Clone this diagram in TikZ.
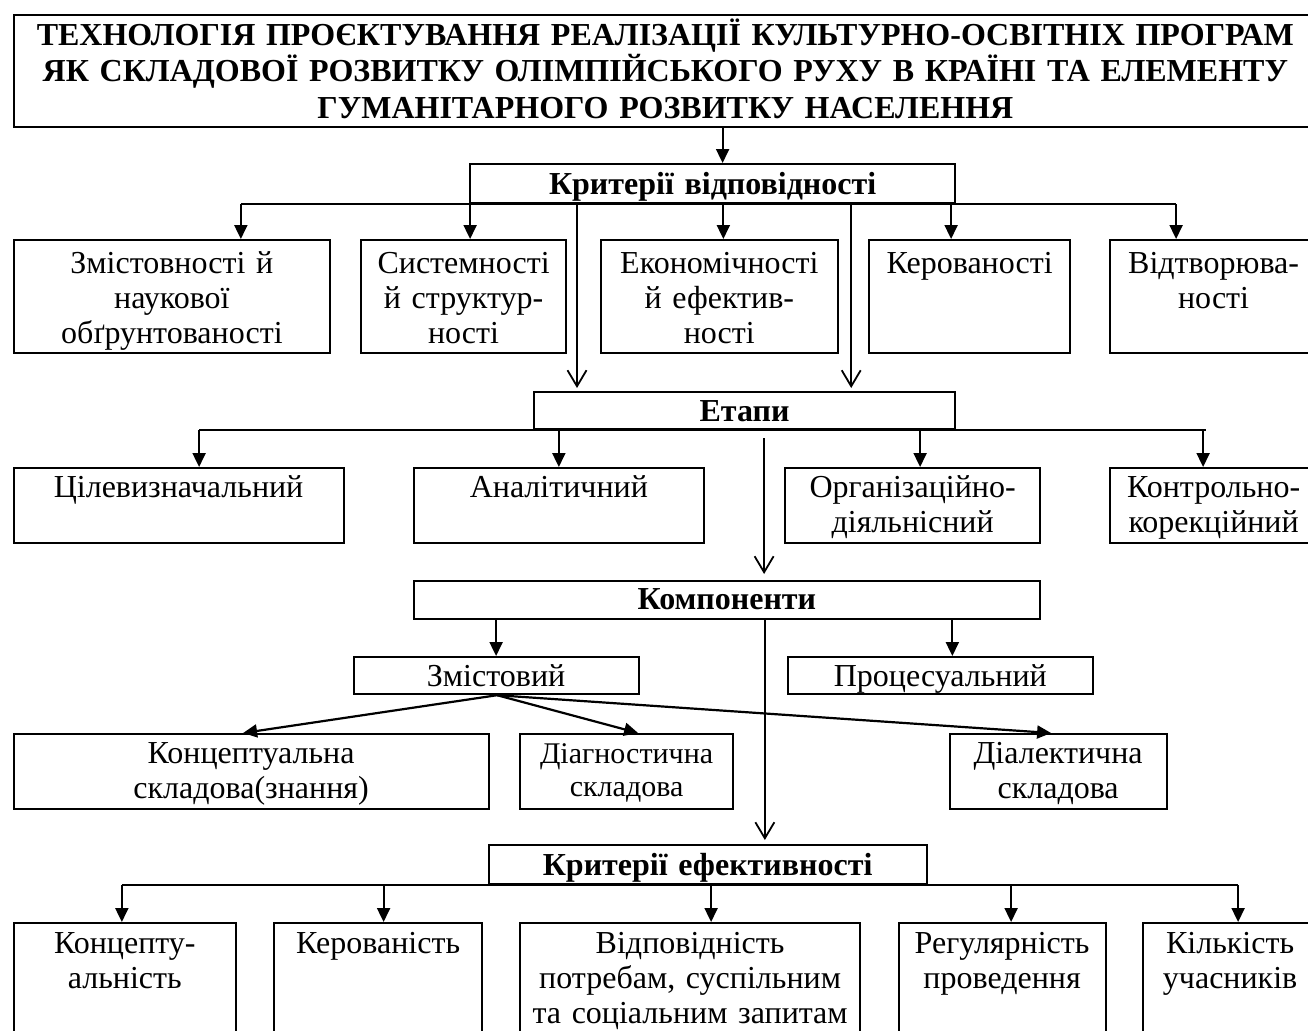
\documentclass[tikz,border=0pt]{standalone}
\usepackage{fontspec}
\setmainfont{Liberation Serif}
\usepackage{tikz}
\usetikzlibrary{arrows.meta}
\newcommand{\tekst}{\fontsize{32}{35}\selectfont}
\tikzstyle{blok} = [draw, line width=2.2pt, align=center, inner sep=0pt, anchor=north west, font=\tekst]
\tikzstyle{nazva} = [blok, font=\fontsize{32}{36.5}\selectfont\bfseries, text height=30pt, text depth=82pt]
\tikzstyle{rubryka} = [blok, font=\tekst\bfseries, text height=30pt, text depth=9pt]
\tikzstyle{mala} = [blok, text height=29pt, text depth=8pt]
\tikzstyle{ryadA} = [blok, text height=33pt, text depth=80pt]
\tikzstyle{ryadB} = [blok, text height=29pt, text depth=46pt]
\tikzstyle{ryadC} = [blok, text height=30pt, text depth=93pt]
\tikzstyle{strilka} = [line width=2.2pt, -{Triangle[length=14pt,width=13pt]}]
\tikzstyle{vidkryta} = [line width=1.8pt, -{Straight Barb[length=16pt,width=19pt,line width=1.8pt]}]
\tikzstyle{liniya} = [line width=2.2pt]
\begin{document}
\begin{tikzpicture}[x=1pt, y=-1pt]
	\useasboundingbox (0,0) rectangle (1308,1030);
	\clip (0,0) rectangle (1308,1030);
	% nazva
	\node[nazva, text width=1303.5pt] (tytul) at (12.5,14) {ТЕХНОЛОГІЯ ПРОЄКТУВАННЯ РЕАЛІЗАЦІЇ КУЛЬТУРНО-ОСВІТНІХ ПРОГРАМ\\ЯК СКЛАДОВОЇ РОЗВИТКУ ОЛІМПІЙСЬКОГО РУХУ В КРАЇНІ ТА ЕЛЕМЕНТУ\\ГУМАНІТАРНОГО РОЗВИТКУ НАСЕЛЕННЯ};
	% kryterii vidpovidnosti
	\node[rubryka, text width=485pt] (kv) at (469,163) {Критерії відповідності};
	\node[ryadA, text width=316.5pt] (z1) at (12.5,239) {Змістовності й\\наукової\\обґрунтованості};
	\node[ryadA, text width=205pt] (z2) at (360,239) {Системності\\й структур-\\ності};
	\node[ryadA, text width=236.5pt] (z3) at (600,239) {Економічності\\й ефектив-\\ності};
	\node[ryadA, text width=201pt] (z4) at (868,239) {Керованості};
	\node[ryadA, text width=207pt] (z5) at (1109,239) {Відтворюва-\\ності};
	% etapy
	\node[rubryka, text height=29pt, text depth=8pt, text width=421pt] (et) at (533,391) {Етапи};
	\node[ryadB, text width=330pt] (e1) at (12.5,467) {Цілевизначальний};
	\node[ryadB, text width=290.5pt] (e2) at (412.5,467) {Аналітичний};
	\node[ryadB, text width=255pt] (e3) at (784,467) {Організаційно-\\діяльнісний};
	\node[ryadB, text width=207pt] (e4) at (1109,467) {Контрольно-\\корекційний};
	% komponenty
	\node[rubryka, text height=28pt, text depth=10pt, text width=626.5pt] (km) at (412.5,580) {Компоненти};
	\node[mala, text width=285pt] (zm) at (352.5,656) {Змістовий};
	\node[mala, text width=305.5pt] (pr) at (786.5,656) {Процесуальний};
	\node[ryadB, text width=475pt] (k1) at (12.5,733) {Концептуальна\\складова(знання)};
	\node[ryadB, text width=213pt, font=\fontsize{30}{33}\selectfont] (k2) at (519,733) {Діагностична\\складова};
	\node[ryadB, text width=217pt] (k3) at (948.5,733) {Діалектична\\складова};
	% kryterii efektyvnosti
	\node[rubryka, text width=438pt] (ke) at (487.5,844) {Критерії ефективності};
	\node[ryadC, text width=222.5pt] (c1) at (12.5,922) {Концепту-\\альність};
	\node[ryadC, text width=208pt] (c2) at (273,922) {Керованість};
	\node[ryadC, text width=340pt] (c3) at (519,922) {Відповідність\\потребам, суспільним\\та соціальним запитам};
	\node[ryadC, text width=207pt] (c4) at (897.5,922) {Регулярність\\проведення};
	\node[ryadC, text width=174pt] (c5) at (1142,922) {Кількість\\учасників};

	\draw[strilka] ([xshift=10pt]kv.north |- tytul.south) -- ([xshift=10pt]kv.north);
	\draw[liniya] ([xshift=69pt]z1.north |- kv.south) -- ([xshift=-37.5pt]z5.north |- kv.south);
	\draw[strilka] ([xshift=69pt]z1.north |- kv.south) -- ([xshift=69pt]z1.north);
	\draw[strilka] ([xshift=6.5pt]z2.north |- kv.south) -- ([xshift=6.5pt]z2.north);
	\draw[strilka] ([xshift=4pt]z3.north |- kv.south) -- ([xshift=4pt]z3.north);
	\draw[strilka] ([xshift=-18.5pt]z4.north |- kv.south) -- ([xshift=-18.5pt]z4.north);
	\draw[strilka] ([xshift=-37.5pt]z5.north |- kv.south) -- ([xshift=-37.5pt]z5.north);
	\draw[vidkryta] ([xshift=44pt]et.north west |- kv.south) -- ([xshift=44pt,yshift=3pt]et.north west);
	\draw[vidkryta] ([xshift=-105pt]et.north east |- kv.south) -- ([xshift=-105pt,yshift=3pt]et.north east);

	\draw[liniya] ([xshift=20.5pt]e1.north |- et.south) -- ([xshift=-7.5pt]e4.north |- et.south);
	\draw[strilka] ([xshift=20.5pt]e1.north |- et.south) -- ([xshift=20.5pt]e1.north);
	\draw[strilka] (e2.north |- et.south) -- (e2.north);
	\draw[strilka] ([xshift=7.5pt]e3.north |- et.south) -- ([xshift=7.5pt]e3.north);
	\draw[strilka] ([xshift=-10.5pt]e4.north |- et.south) -- ([xshift=-10.5pt]e4.north);
	\draw[vidkryta] ([xshift=19.5pt,yshift=-8pt]et.south) -- ([xshift=19.5pt,yshift=6pt]et.south |- km.north);

	\draw[strilka] (zm.north |- km.south) -- (zm.north);
	\draw[strilka] ([xshift=12pt]pr.north |- km.south) -- ([xshift=12pt]pr.north);
	\draw[vidkryta] ([xshift=38pt]km.south) -- ([xshift=38pt,yshift=4pt]km.south |- ke.north);
	\draw[strilka] ([xshift=1pt]zm.south) -- ([xshift=-8pt]k1.north);
	\draw[strilka] ([xshift=1pt]zm.south) -- ([xshift=11.5pt]k2.north);
	\draw[strilka] ([xshift=1pt]zm.south) -- ([xshift=-7pt]k3.north);

	\draw[liniya] ([xshift=-3pt]c1.north |- ke.south) -- ([xshift=8pt]c5.north |- ke.south);
	\draw[strilka] ([xshift=-3pt]c1.north |- ke.south) -- ([xshift=-3pt]c1.north);
	\draw[strilka] ([xshift=5.5pt]c2.north |- ke.south) -- ([xshift=5.5pt]c2.north);
	\draw[strilka] ([xshift=21pt]c3.north |- ke.south) -- ([xshift=21pt]c3.north);
	\draw[strilka] ([xshift=9pt]c4.north |- ke.south) -- ([xshift=9pt]c4.north);
	\draw[strilka] ([xshift=8pt]c5.north |- ke.south) -- ([xshift=8pt]c5.north);
\end{tikzpicture}
\end{document}
